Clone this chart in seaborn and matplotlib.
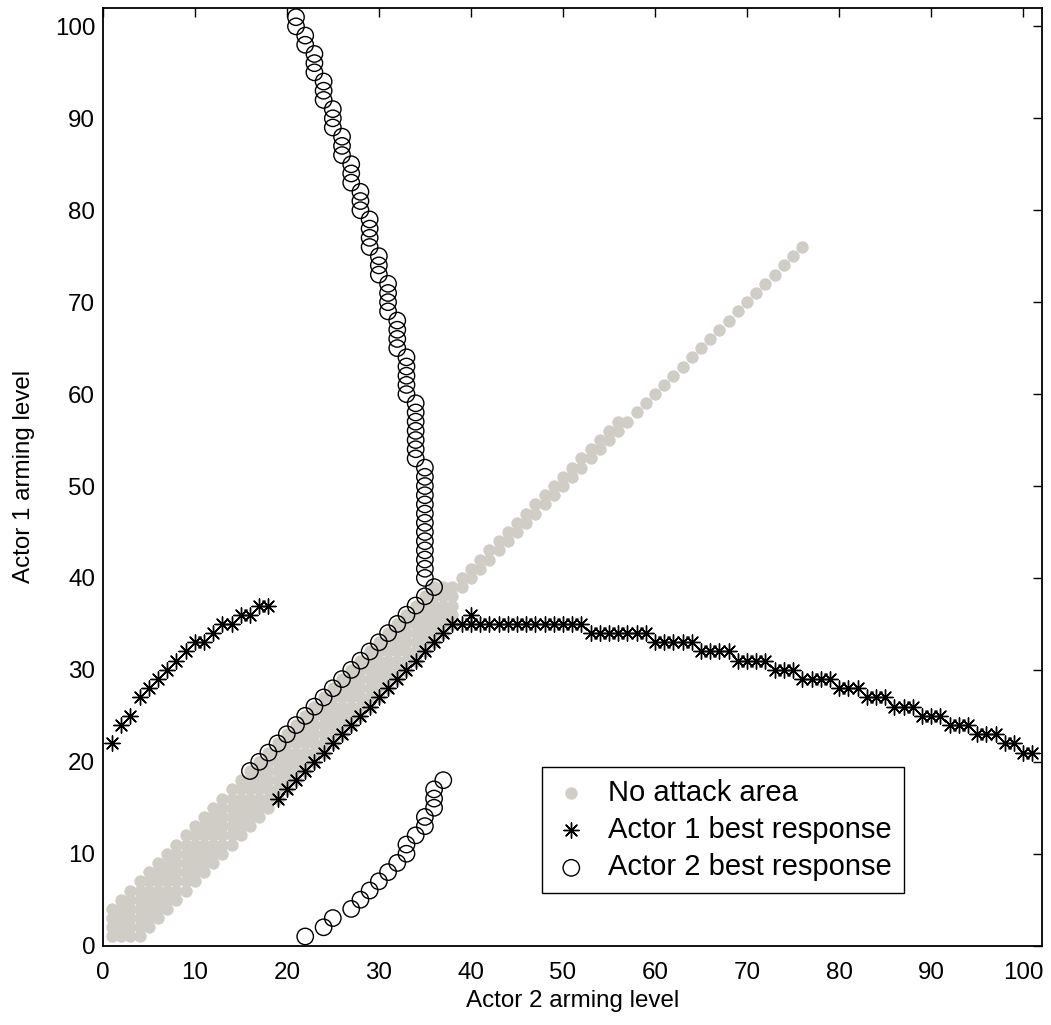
import numpy as np
import pandas as pd
import matplotlib
matplotlib.use("Agg")
import matplotlib.pyplot as plt
import seaborn as sns

# ---------------- data ----------------
# Actor 1 best response (x = actor 2 level, y = actor 1 level)
a1_x = [1, 2, 3, 4, 5, 6, 7, 8, 9, 10, 11, 12, 13, 14, 15, 16, 17, 18,
        19, 20, 21, 22, 23, 24, 25, 26, 27, 28, 29, 30, 31, 32, 33, 34, 35, 36, 37, 38,
        39, 40, 40, 41, 42, 43, 44, 45, 46, 47, 48, 49, 50, 51, 52,
        53, 54, 55, 56, 57, 58, 59,
        60, 61, 62, 63, 64,
        65, 66, 67, 68,
        69, 70, 71, 72,
        73, 74, 75,
        76, 77, 78, 79,
        80, 81, 82,
        83, 84, 85,
        86, 87, 88,
        89, 90, 91,
        92, 93, 94,
        95, 96, 97,
        98, 99,
        100, 101]
a1_y = [22, 24, 25, 27, 28, 29, 30, 31, 32, 33, 33, 34, 35, 35, 36, 36, 37, 37,
        16, 17, 18, 19, 20, 21, 22, 23, 24, 25, 26, 27, 28, 29, 30, 31, 32, 33, 34, 35,
        35, 35, 36, 35, 35, 35, 35, 35, 35, 35, 35, 35, 35, 35, 35,
        34, 34, 34, 34, 34, 34, 34,
        33, 33, 33, 33, 33,
        32, 32, 32, 32,
        31, 31, 31, 31,
        30, 30, 30,
        29, 29, 29, 29,
        28, 28, 28,
        27, 27, 27,
        26, 26, 26,
        25, 25, 25,
        24, 24, 24,
        23, 23, 23,
        22, 22,
        21, 21]

# Actor 2 best response (y = actor 1 level, x = actor 2 level)
a2_y = [1, 2, 3, 4, 5, 6, 7, 8, 9, 10, 11, 12, 13, 14, 15, 16, 17, 18,
        19, 20, 21, 22, 23, 24, 25, 26, 27, 28, 29, 30, 31, 32, 33, 34, 35, 36, 37, 38, 39,
        40, 41, 42, 43, 44, 45, 46, 47, 48, 49, 50, 51, 52,
        53, 54, 55, 56, 57, 58, 59,
        60, 61, 62, 63, 64,
        65, 66, 67, 68,
        69, 70, 71, 72,
        73, 74, 75,
        76, 77, 78, 79,
        80, 81, 82,
        83, 84, 85,
        86, 87, 88,
        89, 90, 91,
        92, 93, 94,
        95, 96, 97,
        98, 99,
        100, 101]
a2_x = [22, 24, 25, 27, 28, 29, 30, 31, 32, 33, 33, 34, 35, 35, 36, 36, 36, 37,
        16, 17, 18, 19, 20, 21, 22, 23, 24, 25, 26, 27, 28, 29, 30, 31, 32, 33, 34, 35, 36,
        35, 35, 35, 35, 35, 35, 35, 35, 35, 35, 35, 35, 35,
        34, 34, 34, 34, 34, 34, 34,
        33, 33, 33, 33, 33,
        32, 32, 32, 32,
        31, 31, 31, 31,
        30, 30, 30,
        29, 29, 29, 29,
        28, 28, 28,
        27, 27, 27,
        26, 26, 26,
        25, 25, 25,
        24, 24, 24,
        23, 23, 23,
        22, 22,
        21, 21]

# No attack area, dense part: per actor-2 level column, lowest and highest actor-1 level
na_col = [1, 2, 3, 4, 5, 6, 7, 8, 9, 10, 11, 12, 13, 14, 15, 16, 17, 18, 19, 20,
          21, 22, 23, 24, 25, 26, 27, 28, 29, 30, 31, 32, 33, 34, 35, 36, 37, 38]
na_lo = [1, 1, 1, 1, 2, 3, 4, 5, 6, 7, 8, 9, 10, 11, 12, 13, 14, 15, 16, 17,
         18, 19, 20, 21, 22, 23, 24, 25, 26, 27, 28, 29, 30, 31, 32, 33, 34, 35]
na_hi = [4, 5, 6, 7, 8, 9, 10, 11, 12, 13, 14, 15, 16, 17, 18, 19, 20, 21, 22, 23,
         24, 25, 26, 27, 28, 29, 30, 31, 32, 33, 34, 35, 36, 37, 38, 39, 39, 39]
# No attack area, sparse part (individual cells)
na_px = [39, 39, 40, 40, 41, 41, 42, 42, 43, 43, 44, 44, 45, 45, 46, 46, 47, 47,
         48, 48, 49, 49, 50, 50, 51, 51, 52, 52, 53, 53, 54, 54, 55, 55, 56, 56, 57,
         58, 59, 60, 61, 62, 63, 64, 65, 66, 67, 68, 69, 70, 71, 72, 73, 74, 75, 76]
na_py = [39, 40, 40, 41, 41, 42, 42, 43, 43, 44, 44, 45, 45, 46, 46, 47, 47, 48,
         48, 49, 49, 50, 50, 51, 51, 52, 52, 53, 53, 54, 54, 55, 55, 56, 56, 57, 57,
         58, 59, 60, 61, 62, 63, 64, 65, 66, 67, 68, 69, 70, 71, 72, 73, 74, 75, 76]

x_ticks = [0, 10, 20, 30, 40, 50, 60, 70, 80, 90, 100]
y_ticks = [0, 10, 20, 30, 40, 50, 60, 70, 80, 90, 100]

# build tables
na_x, na_y = [], []
for c, lo, hi in zip(na_col, na_lo, na_hi):
    for v in range(lo, hi + 1):
        na_x.append(c)
        na_y.append(v)
na_x += na_px
na_y += na_py
df_na = pd.DataFrame({"x": na_x, "y": na_y})
df_a1 = pd.DataFrame({"x": a1_x, "y": a1_y})
df_a2 = pd.DataFrame({"x": a2_x, "y": a2_y})

# ---------------- style ----------------
sns.set_style("white")
plt.rcParams["font.family"] = ["Liberation Sans", "DejaVu Sans"]

fig = plt.figure(figsize=(10.51, 10.25), dpi=100)
ax = fig.add_axes([0.0977, 0.0774, 0.8934, 0.9148])

gray = "#d0cdc7"
sns.scatterplot(data=df_na, x="x", y="y", ax=ax, color=gray, s=80,
                linewidth=0, marker="o", label="No attack area", zorder=2)
sns.scatterplot(data=df_a1, x="x", y="y", ax=ax, color="black", s=120,
                marker=(8, 2, 0), linewidth=1.0, label="Actor 1 best response", zorder=3)
sns.scatterplot(data=df_a2, x="x", y="y", ax=ax, s=140, marker="o",
                facecolor="none", edgecolor="black", linewidth=1.0,
                label="Actor 2 best response", zorder=4)

ax.set_xlim(0, 102)
ax.set_ylim(0, 102)
ax.set_xticks(x_ticks)
ax.set_yticks(y_ticks)
ax.tick_params(direction="in", length=6.5, width=1, top=True, right=True,
               labelsize=17.4, colors="black")
ax.tick_params(axis="x", pad=12)
ax.tick_params(axis="y", pad=5.5)
for sp in ax.spines.values():
    sp.set_visible(True)
    sp.set_color("black")
    sp.set_linewidth(1.3)

ax.set_xlabel("Actor 2 arming level", fontsize=17.4, labelpad=4, color="black")
ax.set_ylabel("Actor 1 arming level", fontsize=17.4, labelpad=14, color="black")

leg = ax.legend(loc="lower left", bbox_to_anchor=(0.468, 0.056), fontsize=21,
                frameon=True, fancybox=False, edgecolor="black", framealpha=1,
                borderpad=0.4, labelspacing=0.32, handlelength=1.2,
                handletextpad=0.67, borderaxespad=0)
leg.get_frame().set_linewidth(1.0)
for t in leg.get_texts():
    t.set_color("black")

fig.savefig("out.png", dpi=100)
